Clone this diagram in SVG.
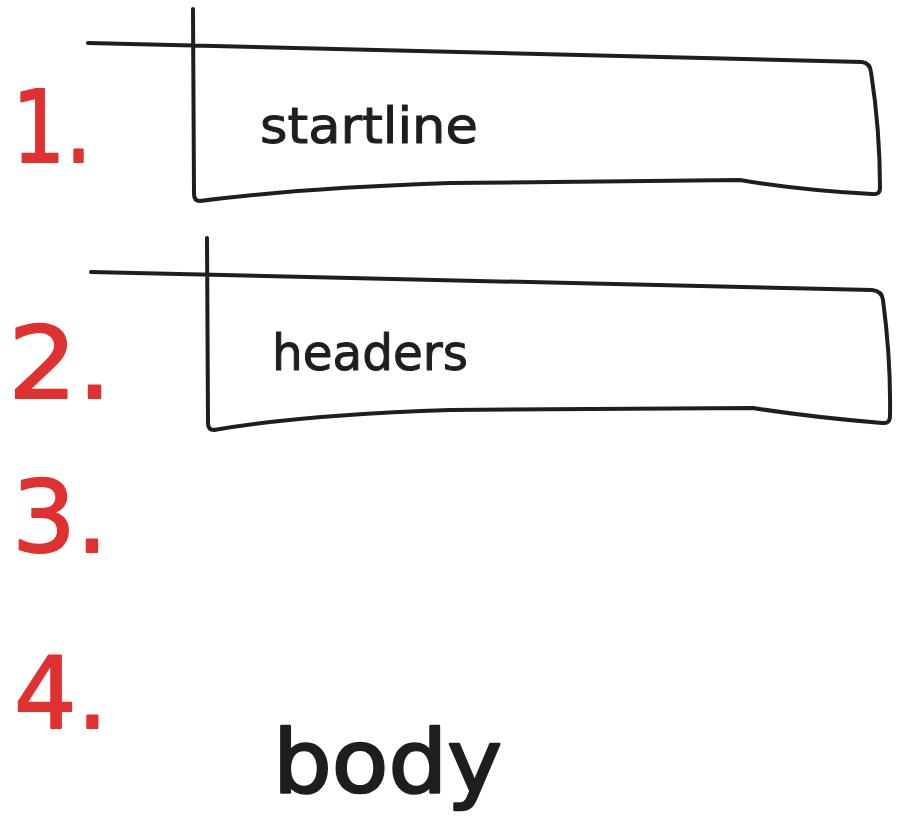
<svg xmlns="http://www.w3.org/2000/svg" width="903" height="839" viewBox="0 0 903 839">
<style>
.box{fill:none;stroke:#1e1e1e;stroke-width:4;stroke-linecap:round;stroke-linejoin:round}
.num{font-family:"DejaVu Sans",sans-serif;fill:#e03131;stroke:#e03131;stroke-width:2;stroke-linejoin:round;font-size:100px}
.lbl{font-family:"DejaVu Sans",sans-serif;fill:#1e1e1e;stroke:#1e1e1e;stroke-linejoin:round}
</style>
<rect width="903" height="839" fill="#ffffff"/>
<g id="startline">
<path class="box" d="M88,43 Q450,52 862,62 Q870,63 871,72 Q880,130 880,188 Q880,195 872,194 Q800,190 740,180 L450,183 Q300,188 200,201 Q194,201 194,194 L193,9"/>
<text class="lbl" x="260" y="143" font-size="50" stroke-width="1" textLength="218" lengthAdjust="spacingAndGlyphs">startline</text>
</g>
<g id="headers">
<path class="box" d="M91,272 Q450,281 872,290 Q882,291 883,300 Q891,360 890,416 Q890,424 882,423 Q810,417 753,408 L450,410 Q300,415 214,430 Q208,430 208,423 L207,238"/>
<text class="lbl" x="272" y="370" font-size="50" stroke-width="1" textLength="196" lengthAdjust="spacingAndGlyphs">headers</text>
</g>
<g id="body">
<text class="lbl" x="273" y="792" font-size="88" stroke-width="2.5" textLength="229" lengthAdjust="spacingAndGlyphs">body</text>
</g>
<g id="numbers">
<text class="num" x="12" y="162" textLength="80" lengthAdjust="spacingAndGlyphs">1.</text>
<text class="num" x="8" y="398" textLength="104" lengthAdjust="spacingAndGlyphs">2.</text>
<text class="num" x="12" y="552" textLength="96" lengthAdjust="spacingAndGlyphs">3.</text>
<text class="num" x="14" y="728" textLength="94" lengthAdjust="spacingAndGlyphs">4.</text>
</g>
<g id="connectors"></g>
</svg>
